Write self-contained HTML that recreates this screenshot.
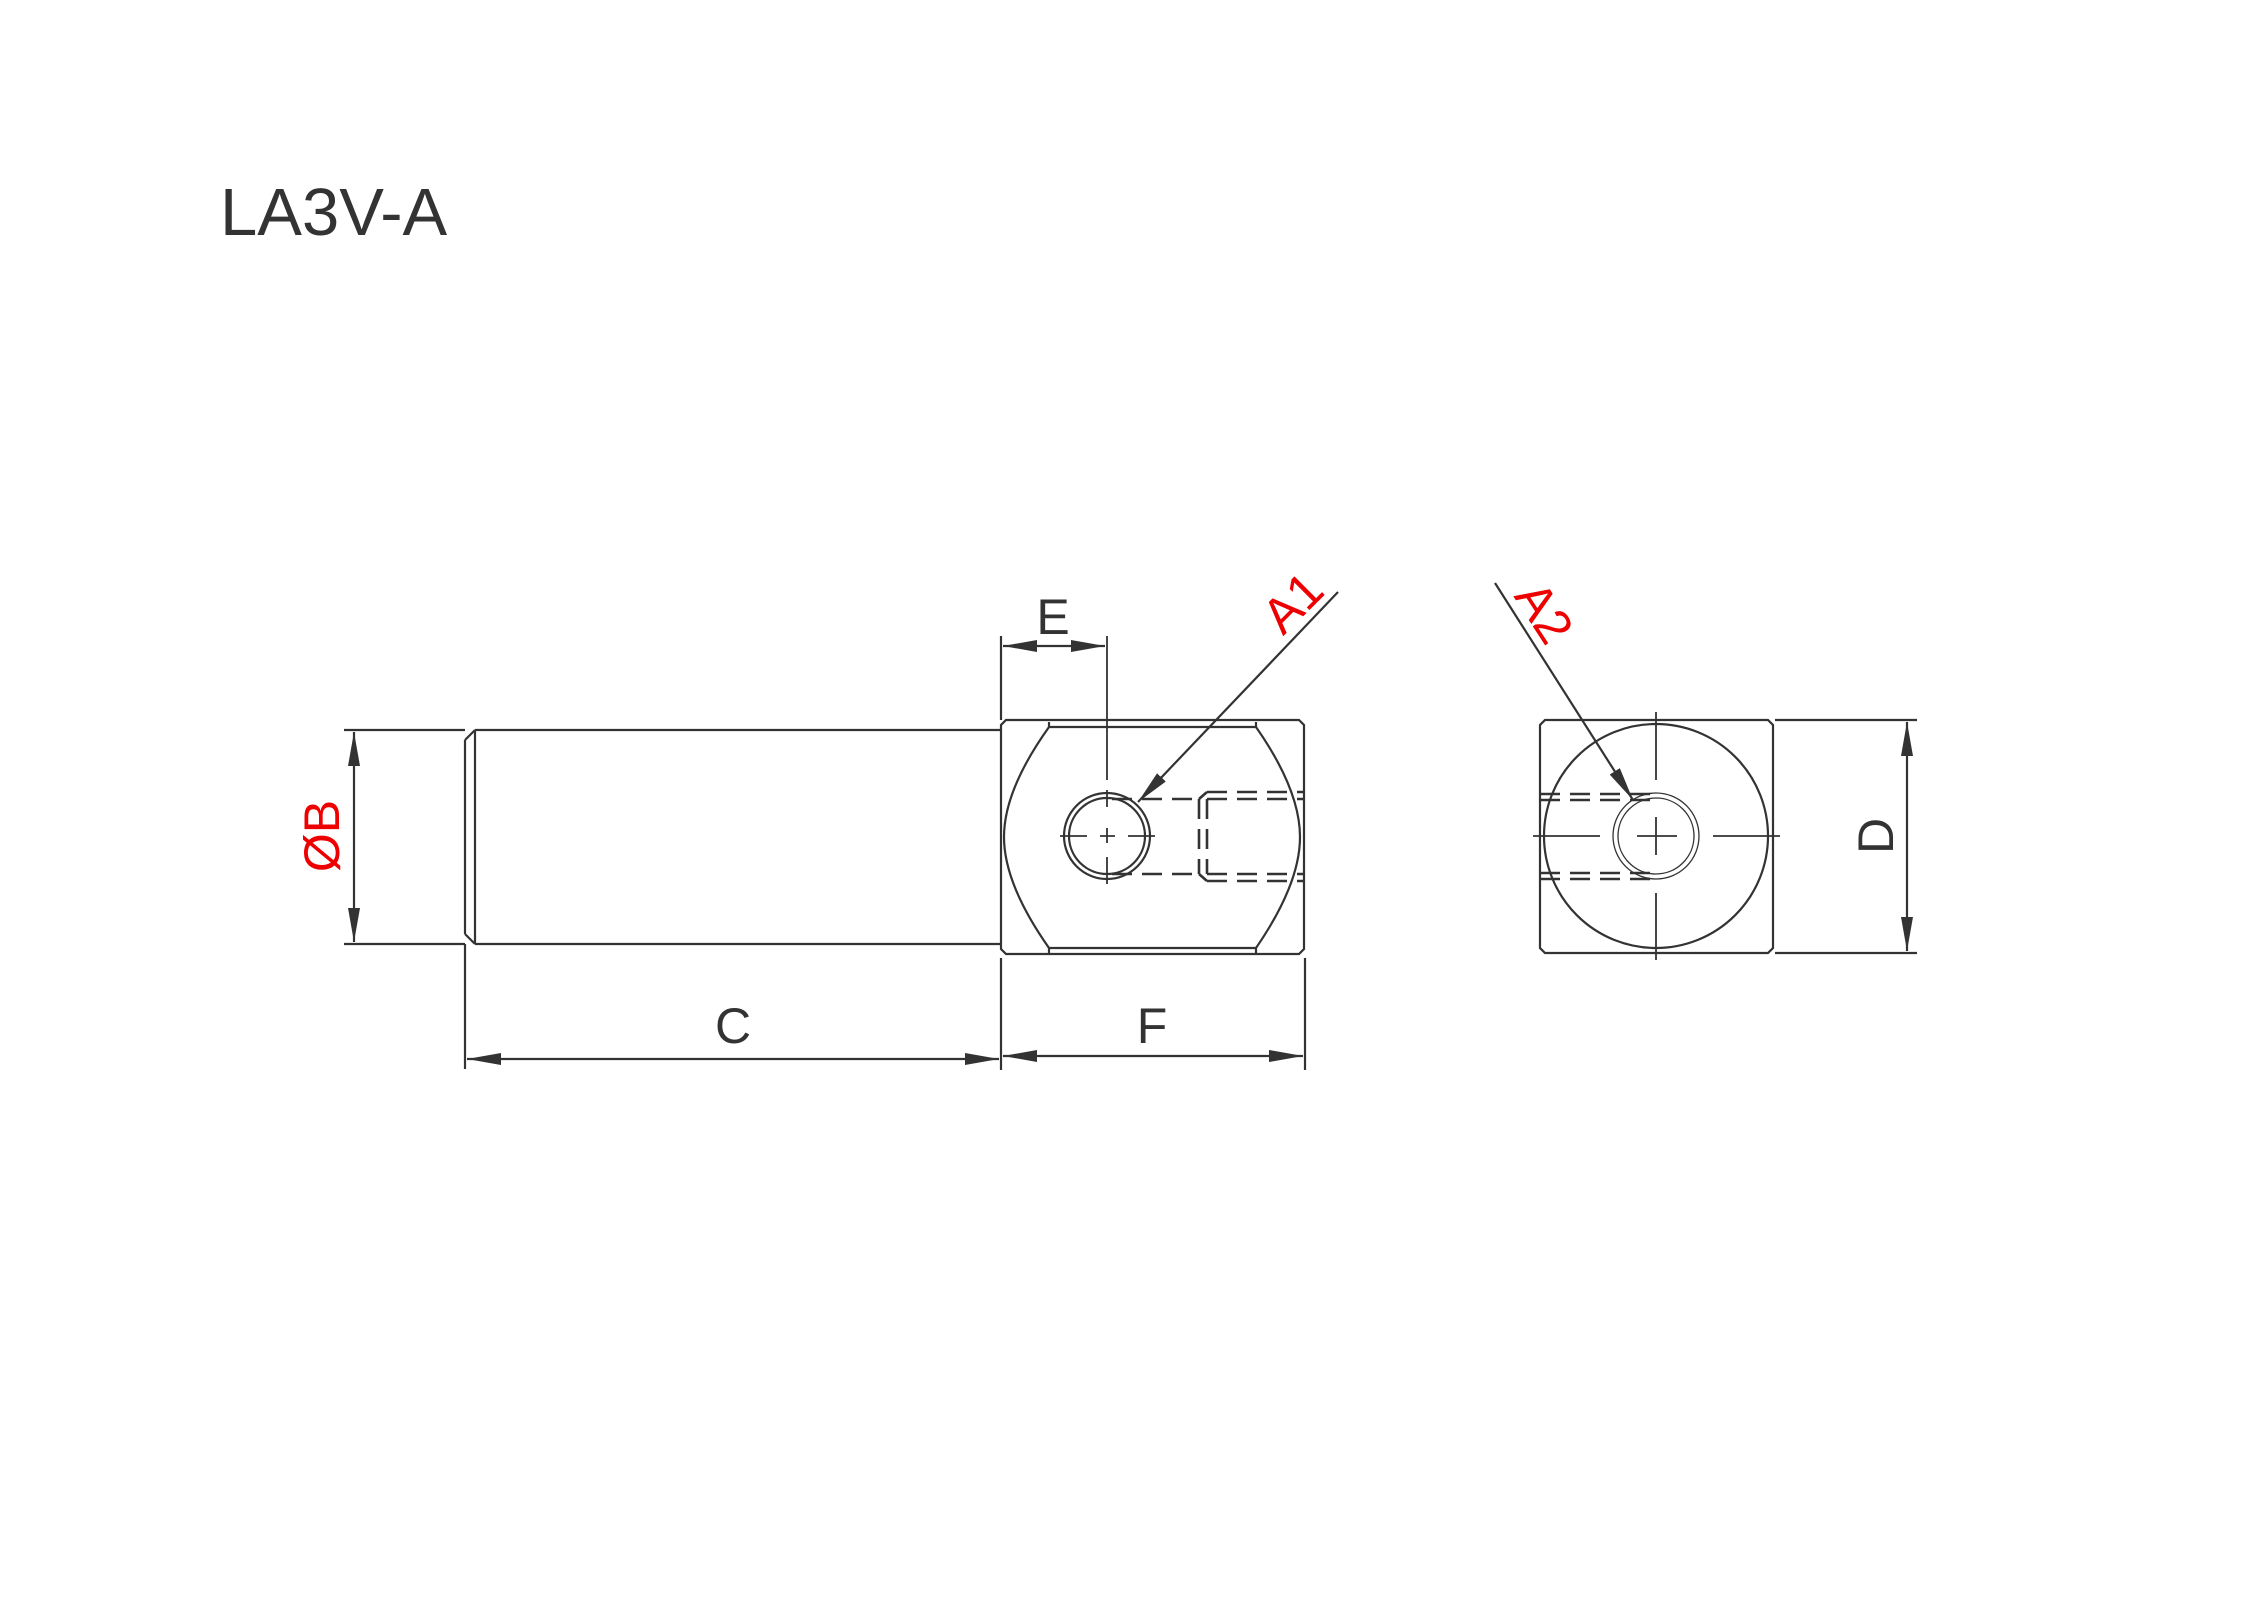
<!DOCTYPE html>
<html><head><meta charset="utf-8"><style>
html,body{margin:0;padding:0;background:#fff;}
svg{display:block;}
text{font-family:"Liberation Sans",Arial,sans-serif;}
</style></head><body>
<svg width="2264" height="1600" viewBox="0 0 2264 1600" xmlns="http://www.w3.org/2000/svg">
<defs>
<marker id="ar" viewBox="0 0 34 12" refX="34" refY="6" markerWidth="34" markerHeight="12" markerUnits="userSpaceOnUse" orient="auto-start-reverse">
<path d="M0,0 L34,6 L0,12 z" fill="#333"/>
</marker>
</defs>
<text x="220" y="235" font-size="67" fill="#333">LA3V-A</text>

<g stroke="#333" stroke-width="2.2" fill="none">
<path d="M475,730 L1001,730 M475,944 L1001,944 M465,740 L475,730 M465,934 L475,944 M465,740 L465,934 M475,730 L475,944"/>
<path d="M344,730 L465,730 M344,944 L465,944 M465,944 L465,1069"/>
<line x1="354" y1="732" x2="354" y2="942" marker-start="url(#ar)" marker-end="url(#ar)"/>
<line x1="467" y1="1059" x2="999" y2="1059" marker-start="url(#ar)" marker-end="url(#ar)"/>
<path d="M1006,720 L1299,720 L1304,725 L1304,949 L1299,954 L1006,954 L1001,949 L1001,725 Z"/>
<path d="M1049,727 L1256,727 M1049,948 L1256,948"/>
<path d="M1049,722 L1049,727 Q1004,790 1004,837 Q1004,884 1049,948 L1049,953"/>
<path d="M1256,722 L1256,727 Q1300,790 1300,837 Q1300,884 1256,948 L1256,953"/>
<circle cx="1107" cy="836" r="43"/>
<circle cx="1107" cy="836" r="38"/>
<path d="M1107,636 L1107,780 M1107,790 L1107,807 M1107,828 L1107,843 M1107,857 L1107,884 M1060,836 L1087,836 M1100,836 L1115,836 M1128,836 L1155,836" stroke-width="1.8"/>
<g stroke-dasharray="20,10" stroke-width="2.6">
<path d="M1112,799 L1199,799 M1112,874 L1199,874"/>
<path d="M1207,792 L1305,792 M1207,799 L1305,799 M1207,874 L1305,874 M1207,881 L1305,881"/>
<path d="M1199,799 L1199,874 M1207,799 L1207,874"/>
</g>
<path d="M1199,799 L1207,792 M1199,874 L1207,881" stroke-width="2.6"/>
<path d="M1001,636 L1001,720"/>
<line x1="1003" y1="646" x2="1105" y2="646" marker-start="url(#ar)" marker-end="url(#ar)"/>
<path d="M1001,958 L1001,1070 M1305,958 L1305,1070"/>
<line x1="1003" y1="1056" x2="1303" y2="1056" marker-start="url(#ar)" marker-end="url(#ar)"/>
<line x1="1338" y1="592" x2="1138" y2="802" marker-end="url(#ar)"/>

<path d="M1545,720 L1768,720 L1773,725 L1773,948 L1768,953 L1545,953 L1540,948 L1540,725 Z"/>
<circle cx="1656" cy="836" r="112"/>
<circle cx="1656" cy="836" r="43" stroke-width="1.3"/>
<circle cx="1656" cy="836" r="38" stroke-width="1.3"/>
<path d="M1533,836 L1600,836 M1637,836 L1677,836 M1713,836 L1780,836 M1656,712 L1656,780 M1656,817 L1656,855 M1656,893 L1656,960" stroke-width="1.8"/>
<g stroke-dasharray="20,10" stroke-width="2.6">
<path d="M1540,794 L1656,794 M1540,800 L1656,800 M1540,873 L1656,873 M1540,879 L1656,879"/>
</g>
<path d="M1775,720 L1917,720 M1775,953 L1917,953"/>
<line x1="1907" y1="722" x2="1907" y2="951" marker-start="url(#ar)" marker-end="url(#ar)"/>
<line x1="1495" y1="583" x2="1633" y2="800" marker-end="url(#ar)"/>
</g>

<g font-size="50" fill="#333" text-anchor="middle">
<text x="1053" y="634">E</text>
<text x="733" y="1043">C</text>
<text x="1152" y="1043">F</text>
<text transform="translate(1875,836) rotate(-90)" dy="18">D</text>
</g>
<g font-size="50" fill="#e00" text-anchor="middle">
<text transform="translate(321,836) rotate(-90)" dy="18">ØB</text>
<text transform="translate(1292,602) rotate(-45)" dy="18">A1</text>
<text transform="translate(1545,612) rotate(57)" dy="18">A2</text>
</g>
</svg>
</body></html>
